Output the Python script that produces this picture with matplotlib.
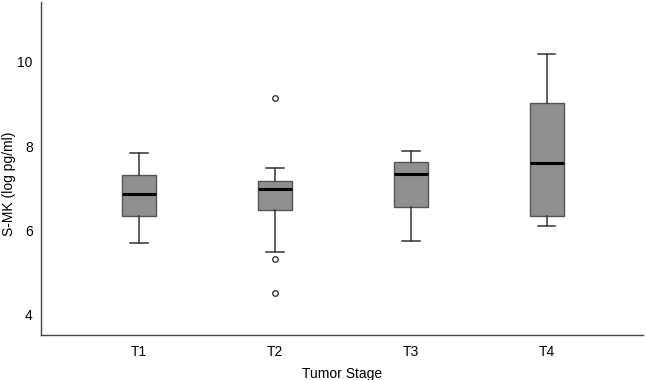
import matplotlib
matplotlib.use("Agg")
import matplotlib.pyplot as plt

# values (log pg/ml)
stages = ["T1", "T2", "T3", "T4"]
whisker_lo = [5.70, 5.48, 5.74, 6.10]
q1 = [6.34, 6.47, 6.55, 6.33]
median = [6.86, 6.97, 7.33, 7.60]
q3 = [7.30, 7.18, 7.62, 9.02]
whisker_hi = [7.83, 7.47, 7.88, 10.20]
outliers = [[], [9.14, 5.32, 4.51], [], []]

plt.rcParams['font.family'] = ['Liberation Sans', 'DejaVu Sans']

stats = []
for i, name in enumerate(stages):
    stats.append({
        "label": name,
        "whislo": whisker_lo[i],
        "q1": q1[i],
        "med": median[i],
        "q3": q3[i],
        "whishi": whisker_hi[i],
        "fliers": outliers[i],
    })

fig = plt.figure(figsize=(6.46, 3.8), dpi=100)
ax = fig.add_axes([0.0635, 0.118, 0.932, 0.877])

ax.bxp(
    stats,
    positions=[1, 2, 3, 4],
    widths=0.25,
    patch_artist=True,
    boxprops=dict(facecolor="#8f8f8f", edgecolor="#555555", linewidth=1.0),
    medianprops=dict(color="black", linewidth=2.2),
    whiskerprops=dict(color="#333333", linewidth=1.1),
    capprops=dict(color="#333333", linewidth=1.1),
    capwidths=0.13,
    flierprops=dict(marker="o", markersize=4, markerfacecolor="white",
                    markeredgecolor="#222222", markeredgewidth=0.9),
)

ax.set_xlim(0.28, 4.71)
ax.set_ylim(3.5, 11.43)
ax.set_yticks([4, 6, 8, 10])
ax.set_xticks([1, 2, 3, 4])
ax.set_xticklabels(stages)
ax.tick_params(axis="x", length=0, labelsize=10, pad=7)
ax.tick_params(axis="y", length=0, labelsize=10, pad=6)

for side in ["top", "right"]:
    ax.spines[side].set_visible(False)
for side in ["left", "bottom"]:
    ax.spines[side].set_color("#444444")
    ax.spines[side].set_linewidth(1.0)

ax.set_xlabel("Tumor Stage", fontsize=10, labelpad=6)
ax.set_ylabel("S-MK (log pg/ml)", fontsize=10)
ax.yaxis.set_label_coords(-0.042, 0.455)

fig.savefig("out.png", dpi=100)
plt.close(fig)
